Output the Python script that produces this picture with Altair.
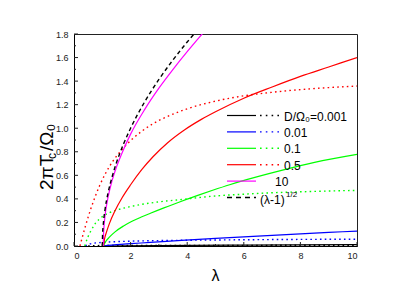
import altair as alt
import pandas as pd

# ---------------- data ----------------
# (lambda-1)^(1/2) reference curve
sqrt_lam = [1.0, 1.01, 1.03, 1.06, 1.1, 1.2, 1.35, 1.5, 1.75, 2.0, 2.5, 3.0, 3.5, 4.0, 4.5]
sqrt_val = [0.0, 0.10, 0.17, 0.245, 0.316, 0.447, 0.59, 0.707, 0.866, 1.0, 1.225, 1.414, 1.58, 1.732, 1.87]

# D/Omega0 = 10 (solid, magenta)
d10_lam = [1.03, 1.05, 1.08, 1.12, 1.2, 1.35, 1.5, 1.75, 2.0, 2.5, 3.0, 3.5, 4.0, 4.6]
d10_val = [0.0, 0.13, 0.22, 0.30, 0.41, 0.56, 0.67, 0.82, 0.95, 1.16, 1.34, 1.50, 1.65, 1.82]

# D/Omega0 = 0.5 (red)
d05s_lam = [1.04, 1.08, 1.15, 1.25, 1.45, 1.7, 2.0, 2.4, 2.8, 3.3, 3.9, 4.5, 5.0, 6.0, 7.0, 8.0, 9.0, 10.0]
d05s_val = [0.0, 0.06, 0.12, 0.19, 0.30, 0.41, 0.52, 0.65, 0.76, 0.875, 0.985, 1.075, 1.14, 1.255, 1.35, 1.44, 1.52, 1.60]
d05d_lam = [0.21, 0.3, 0.4, 0.5, 0.6, 0.75, 0.9, 1.1, 1.4, 1.7, 2.0, 2.4, 2.8, 3.4, 4.0, 5.0, 6.0, 7.0, 8.0, 9.0, 10.0]
d05d_val = [0.0, 0.08, 0.165, 0.245, 0.32, 0.42, 0.51, 0.61, 0.73, 0.82, 0.895, 0.975, 1.04, 1.11, 1.165, 1.23, 1.275, 1.305, 1.328, 1.345, 1.358]

# D/Omega0 = 0.1 (green)
d01s_lam = [1.04, 1.1, 1.25, 1.45, 1.75, 2.05, 2.4, 2.7, 3.2, 3.8, 4.4, 4.9, 5.5, 6.1, 7.3, 8.5, 10.0]
d01s_val = [0.0, 0.03, 0.075, 0.12, 0.17, 0.21, 0.248, 0.278, 0.326, 0.38, 0.432, 0.473, 0.52, 0.563, 0.64, 0.71, 0.778]
d01d_lam = [0.38, 0.42, 0.5, 0.6, 0.75, 0.9, 1.1, 1.45, 2.0, 2.7, 3.8, 5.0, 6.0, 7.0, 8.0, 9.0, 10.0]
d01d_val = [0.0, 0.03, 0.08, 0.13, 0.19, 0.23, 0.265, 0.30, 0.335, 0.365, 0.395, 0.425, 0.44, 0.452, 0.46, 0.467, 0.472]

# D/Omega0 = 0.01 (blue)
d001s_lam = [1.04, 1.2, 1.5, 2.0, 2.7, 3.8, 5.0, 6.0, 7.0, 8.0, 9.0, 10.0]
d001s_val = [0.0, 0.005, 0.012, 0.02, 0.03, 0.048, 0.065, 0.078, 0.09, 0.103, 0.115, 0.127]
d001d_lam = [0.4, 0.5, 0.65, 0.85, 1.0, 1.5, 2.0, 3.0, 4.0, 6.0, 8.0, 10.0]
d001d_val = [0.0, 0.012, 0.022, 0.028, 0.031, 0.037, 0.041, 0.046, 0.049, 0.053, 0.056, 0.058]

# D/Omega0 = 0.001 (black)
d0001s_lam = [1.04, 3.0, 6.0, 10.0]
d0001s_val = [0.0, 0.004, 0.008, 0.012]
d0001d_lam = [0.5, 1.0, 3.0, 10.0]
d0001d_val = [0.0, 0.004, 0.005, 0.006]

# axis ticks
x_major = [0, 2, 4, 6, 8, 10]
x_minor = [1, 3, 5, 7, 9]
y_major = [0.0, 0.2, 0.4, 0.6, 0.8, 1.0, 1.2, 1.4, 1.6, 1.8]
y_minor = [0.1, 0.3, 0.5, 0.7, 0.9, 1.1, 1.3, 1.5, 1.7]

# legend
leg_labels = ["D/\u03a9\u2080=0.001", "0.01", "0.1", "0.5", "10", "(\u03bb-1)"]
leg_colors = ["#000000", "#0000FF", "#00FF00", "#FF0000", "#FF00FF", "#000000"]

# ---------------- chart ----------------
W, H = 283, 212
FONT = "Liberation Sans"
xs = alt.Scale(domain=[0, 10], nice=False, zero=False)
ys = alt.Scale(domain=[0, 1.8], nice=False, zero=False)
xaxis = alt.Axis(values=x_major, format="d", ticks=False, tickSize=0, grid=False, title=None,
                 labelFontSize=9, labelFont=FONT, labelColor="#222", labelPadding=5,
                 domainColor="#000", domainWidth=1)
yaxis = alt.Axis(values=y_major, format=".1f", ticks=False, tickSize=0, grid=False, title=None,
                 labelFontSize=9, labelFont=FONT, labelColor="#222", labelPadding=6,
                 domainColor="#000", domainWidth=1)

DOT = [1.6, 3.2]


def curve(lam, val, color, dash=None, width=1.2):
    df = pd.DataFrame({"lam": lam, "val": val})
    kw = dict(color=color, strokeWidth=width, clip=True, interpolate="monotone")
    if dash is not None:
        kw["strokeDash"] = dash
    return alt.Chart(df).mark_line(**kw).encode(
        x=alt.X("lam:Q", scale=xs, axis=xaxis),
        y=alt.Y("val:Q", scale=ys, axis=yaxis),
    )


layers = [
    curve(d0001s_lam, d0001s_val, "#000000"),
    curve(d0001d_lam, d0001d_val, "#000000", DOT, 1.4),
    curve(d001s_lam, d001s_val, "#0000FF"),
    curve(d001d_lam, d001d_val, "#0000FF", DOT, 1.4),
    curve(d01s_lam, d01s_val, "#00FF00"),
    curve(d01d_lam, d01d_val, "#00FF00", DOT, 1.4),
    curve(d05s_lam, d05s_val, "#FF0000"),
    curve(d05d_lam, d05d_val, "#FF0000", DOT, 1.4),
    curve(d10_lam, d10_val, "#FF00FF"),
    curve(sqrt_lam, sqrt_val, "#000000", [4, 3], 1.4),
]

# inward ticks
def xticks(vals, length):
    return alt.Chart(pd.DataFrame({"v": vals})).mark_rule(color="#222", strokeWidth=1).encode(
        x=alt.X("v:Q", scale=xs, axis=xaxis), y=alt.value(H), y2=alt.value(H - length))


def yticks(vals, length):
    return alt.Chart(pd.DataFrame({"v": vals})).mark_rule(color="#222", strokeWidth=1).encode(
        y=alt.Y("v:Q", scale=ys, axis=yaxis), x=alt.value(0), x2=alt.value(length))


layers += [xticks(x_major, 4), xticks(x_minor, 2), yticks(y_major, 4), yticks(y_minor, 2)]

one = pd.DataFrame({"a": [0]})


def seg(x1, x2, y, color, dash=None, width=1.2):
    kw = dict(color=color, strokeWidth=width)
    if dash is not None:
        kw["strokeDash"] = dash
    return alt.Chart(one).mark_rule(**kw).encode(x=alt.value(x1), x2=alt.value(x2), y=alt.value(y))


def txt(s, x, y, size=12, angle=0, align="left", baseline="middle"):
    kw = dict(font=FONT, fontSize=size, align=align, baseline=baseline, color="#000")
    if angle:
        kw["angle"] = angle
    return alt.Chart(pd.DataFrame({"t": [s]})).mark_text(**kw).encode(
        text="t:N", x=alt.value(x), y=alt.value(y))


ROW0, STEP = 81.5, 16.4
for i, (lab, col) in enumerate(zip(leg_labels, leg_colors)):
    yy = ROW0 + i * STEP
    if i < 4:
        layers.append(seg(153, 182, yy, col))
        layers.append(seg(186, 207, yy, col, [1.6, 4.2], 1.4))
        layers.append(txt(lab, 210, yy + 1))
    elif i == 4:
        layers.append(seg(153, 182, yy, col))
        layers.append(txt(lab, 201, yy + 1))
    else:
        layers.append(seg(153, 182, yy, col, [5, 4], 1.4))
        layers.append(txt(lab, 186, yy + 2))
        layers.append(txt("1/2", 212, yy - 3, size=8))

# axis titles
TY = 20
layers.append(txt("2\u03c0T", -21.5, 136 + TY, size=19, angle=270, baseline="alphabetic"))
layers.append(txt("c", -18.5, 105 + TY, size=12, angle=270, baseline="alphabetic"))
layers.append(txt("/\u03a9\u2080", -21.5, 97 + TY, size=19, angle=270, baseline="alphabetic"))
layers.append(txt("\u03bb", 141.5, 247, size=16, align="center", baseline="alphabetic"))

chart = alt.layer(*layers).properties(
    width=W, height=H,
    padding={"left": 66, "top": 26, "right": 40, "bottom": 40},
    autosize=alt.AutoSizeParams(type="none"),
).configure_view(stroke="#222", strokeWidth=1)

chart.save("out.html", embed_options={"renderer": "svg", "actions": False})
